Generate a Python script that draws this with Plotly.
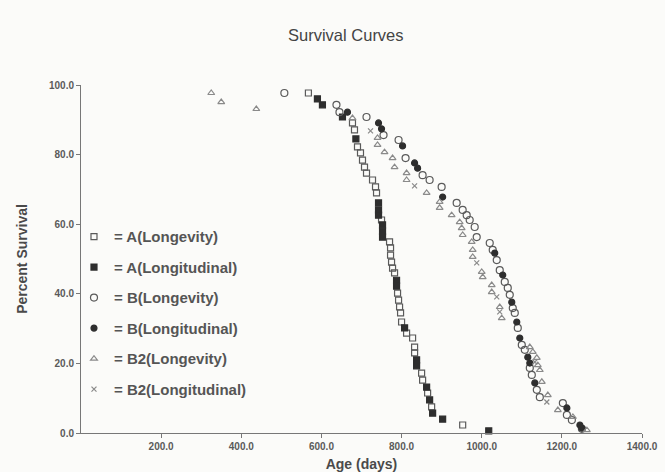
import plotly.graph_objects as go

# ---- data (age in days, percent survival) ----
a_lon_days = [567.5, 677.5, 682.5, 690, 697.5, 702.5, 707.5, 712.5, 727.5, 735, 737.5, 750,
              770, 772.5, 772.5, 775, 777.5, 782.5, 790, 792.5, 795, 797.5, 800, 812.5, 827.5,
              832.5, 832.5, 850, 852.5, 865, 875, 952.5]
a_lon_pct = [97.7, 89.1, 87.1, 82.2, 80.5, 78.4, 76.4, 74.7, 72.7, 70.7, 69.0, 61.2,
             54.9, 53.2, 51.1, 49.1, 47.4, 46.0, 40.2, 38.2, 36.2, 34.5, 31.9, 28.7, 27.3,
             24.7, 23.0, 17.2, 15.2, 11.5, 7.5, 2.3]

a_lgt_days = [590, 602.5, 652.5, 686, 742.5, 742.5, 742.5, 752.5, 752.5, 752.5, 787.5, 787.5,
              807.5, 837.5, 837.5, 862.5, 870, 877.5, 902.5, 1017.5]
a_lgt_pct = [96.0, 94.3, 90.8, 84.5, 66.1, 64.1, 62.6, 59.8, 58.0, 56.3, 43.9, 42.2,
             30.2, 21.0, 19.3, 13.2, 9.5, 5.7, 4.0, 0.6]

b_lon_days = [507.5, 637.5, 645, 712.5, 755, 792.5, 810, 852.5, 870, 900, 937.5, 952.5, 962.5,
              970, 982.5, 987.5, 1020, 1027.5, 1037.5, 1045, 1057.5, 1065, 1070, 1077.5, 1082.5,
              1090, 1100, 1107.5, 1120, 1125, 1137.5, 1145, 1202.5, 1212.5, 1225, 1250, 1252.5,
              1082.5]
b_lon_pct = [97.7, 94.3, 92.2, 90.8, 85.6, 84.2, 79.0, 74.1, 72.7, 70.7, 66.1, 64.1, 62.6,
             61.2, 59.2, 56.3, 54.6, 52.6, 49.7, 46.8, 43.4, 41.7, 39.7, 35.9, 34.5,
             30.2, 25.3, 23.9, 18.7, 16.7, 12.4, 10.3, 8.6, 5.2, 3.7, 1.2, -0.8,
             -0.8]

b_lgt_days = [665, 742.5, 750, 802.5, 832.5, 840, 902.5, 1032.5, 1052.5, 1075, 1087.5, 1095,
              1115, 1120, 1132.5, 1212.5, 1245, 1250]
b_lgt_pct = [92.2, 89.1, 87.4, 82.5, 77.6, 76.1, 67.8, 51.7, 45.4, 37.6, 31.9, 27.3,
             21.8, 20.1, 14.4, 7.2, 2.3, 1.4]

b2_lon_days = [325, 350, 437.5, 677.5, 740, 740, 757.5, 777.5, 782.5, 812.5, 812.5, 862.5, 895,
               895, 925, 945, 950, 952.5, 975, 977.5, 977.5, 1000, 1002.5, 1025, 1025, 1045,
               1050, 1120, 1127.5, 1137.5, 1140, 1145, 1150, 1165, 1190, 1227.5, 1262.5]
b2_lon_pct = [97.7, 95.1, 93.1, 90.5, 84.8, 82.8, 80.7, 79.0, 76.4, 74.7, 72.7, 69.0, 66.4,
              64.7, 62.6, 60.6, 58.9, 56.9, 54.9, 52.6, 50.6, 46.3, 44.8, 42.5, 40.5, 36.2,
              33.0, 24.7, 23.3, 21.6, 19.5, 18.1, 14.7, 10.9, 6.6, 4.6, 0.8]

b2_lgt_days = [722.5, 832.5, 987.5, 1037.5, 1045, 1132.5, 1162.5, 1295]
b2_lgt_pct = [86.8, 71.0, 48.9, 39.1, 34.8, 20.4, 8.9, -0.8]

x_ticks = [200, 400, 600, 800, 1000, 1200, 1400]
x_tick_labels = ["200.0", "400.0", "600.0", "800.0", "1000.0", "1200.0", "1400.0"]
y_ticks = [0, 20, 40, 60, 80, 100]
y_tick_labels = ["0.0", "20.0", "40.0", "60.0", "80.0", "100.0"]

series = [
    ("= A(Longevity)", a_lon_days, a_lon_pct, "square-open", 6, "#5a5a5a"),
    ("= A(Longitudinal)", a_lgt_days, a_lgt_pct, "square", 6, "#2e2e2e"),
    ("= B(Longevity)", b_lon_days, b_lon_pct, "circle-open", 7, "#5a5a5a"),
    ("= B(Longitudinal)", b_lgt_days, b_lgt_pct, "circle", 6, "#2e2e2e"),
    ("= B2(Longevity)", b2_lon_days, b2_lon_pct, "triangle-up-open", 6, "#8a8a8a"),
    ("= B2(Longitudinal)", b2_lgt_days, b2_lgt_pct, "x-thin-open", 5, "#8a8a8a"),
]

FONT = "Liberation Sans, Arial, sans-serif"

fig = go.Figure()
for i, (name, xs, ys, sym, sz, col) in enumerate(series):
    fig.add_trace(go.Scatter(
        x=xs, y=ys, mode="markers", name=name, legendgroup=str(i),
        marker=dict(symbol=sym, size=sz, color=col, line=dict(color=col, width=1.2)),
        cliponaxis=False,
    ))

tick_font = dict(family=FONT, size=10, color="#5a5a5a", weight="bold")
title_font = dict(family=FONT, size=14, color="#4a4a4a", weight="bold")
fig.update_layout(
    width=665, height=472,
    margin=dict(l=81, r=23, t=85, b=39),
    paper_bgcolor="#fbfbf9", plot_bgcolor="#fbfbf9",
    title=dict(text="Survival Curves", x=0.52, xanchor="center", y=0.926, yanchor="middle",
               font=dict(family=FONT, size=16.5, color="#444")),
    showlegend=True,
    legend=dict(x=-0.0125, y=0.611, xanchor="left", yanchor="top", bgcolor="rgba(0,0,0,0)",
                font=dict(family=FONT, size=15, color="#555", weight="bold"),
                tracegroupgap=8, itemwidth=30),
    xaxis=dict(range=[0, 1400], tickvals=x_ticks, ticktext=x_tick_labels,
               showgrid=False, zeroline=False, showline=True, linecolor="#777", linewidth=1,
               ticks="outside", ticklen=4, tickcolor="#777", tickfont=tick_font,
               automargin=False,
               title=dict(text="Age (days)", standoff=8, font=title_font)),
    yaxis=dict(range=[0, 100], tickvals=y_ticks, ticktext=y_tick_labels,
               showgrid=False, zeroline=False, showline=True, linecolor="#777", linewidth=1,
               ticks="outside", ticklen=4, tickcolor="#777", tickfont=tick_font,
               automargin=False,
               title=dict(text="Percent Survival", standoff=18, font=title_font)),
)

fig.write_html("out.html", config={"displayModeBar": False},
               post_script="document.body.style.margin='0';")
